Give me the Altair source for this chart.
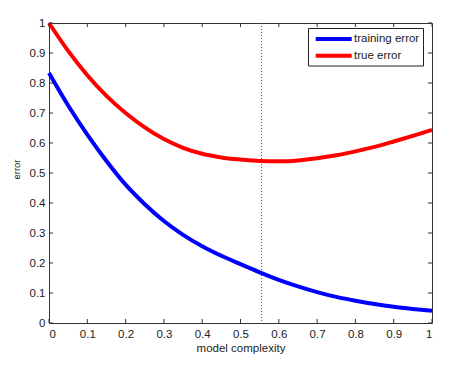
import altair as alt
import pandas as pd

# ---- data ----
complexity = [0.0, 0.05, 0.1, 0.15, 0.2, 0.25, 0.3, 0.35, 0.4, 0.45, 0.5,
              0.55, 0.6, 0.65, 0.7, 0.75, 0.8, 0.85, 0.9, 0.95, 1.0]
training_error = [0.833, 0.725, 0.628, 0.540, 0.461, 0.396, 0.340, 0.294, 0.256, 0.224, 0.196,
                  0.169, 0.144, 0.122, 0.103, 0.087, 0.074, 0.063, 0.054, 0.047, 0.041]
true_error = [1.000, 0.907, 0.826, 0.757, 0.700, 0.652, 0.613, 0.584, 0.564, 0.552, 0.545,
              0.540, 0.539, 0.542, 0.549, 0.559, 0.572, 0.587, 0.605, 0.624, 0.644]
series_names = ["training error", "true error"]
series_colors = ["#0000ff", "#ff0000"]
best_complexity = [0.555]
tick_values = [0.0, 0.1, 0.2, 0.3, 0.4, 0.5, 0.6, 0.7, 0.8, 0.9, 1.0]

W, H = 383, 300
FONT = "Liberation Sans"

rows = []
for xv, tr, te in zip(complexity, training_error, true_error):
    rows.append({"x": xv, "error": tr, "series": series_names[0]})
    rows.append({"x": xv, "error": te, "series": series_names[1]})
df = pd.DataFrame(rows)
ticks_df = pd.DataFrame({"t": tick_values})
best_df = pd.DataFrame({"b": best_complexity})

xs = alt.Scale(domain=[0, 1], nice=False, zero=False)
ys = alt.Scale(domain=[0, 1], nice=False, zero=False)
X_AX = alt.Axis(values=tick_values, format="~g", grid=False, domain=False, ticks=False,
                labelPadding=5, labelFontSize=11.5, labelColor="#222", labelFont=FONT,
                title="model complexity", titleFont=FONT, titleFontSize=11.5,
                titleFontWeight="normal", titleColor="#222", titlePadding=3)
Y_AX = alt.Axis(values=tick_values, format="~g", grid=False, domain=False, ticks=False,
                labelPadding=4, labelFontSize=11.5, labelColor="#222", labelFont=FONT,
                title="error", titleFont=FONT, titleFontSize=9.5, titleFontWeight="normal",
                titleColor="#222", titleX=-28, titleY=146, titleBaseline="bottom")

color = alt.Color("series:N", scale=alt.Scale(domain=series_names, range=series_colors), legend=None)

lines = alt.Chart(df).mark_line(strokeWidth=4, interpolate="monotone").encode(
    x=alt.X("x:Q", scale=xs, axis=X_AX),
    y=alt.Y("error:Q", scale=ys, axis=Y_AX),
    color=color,
    detail="series:N",
)

TICK = "#333"
tb = alt.Chart(ticks_df).mark_rule(color=TICK, strokeWidth=1).encode(
    x=alt.X("t:Q", scale=xs, axis=X_AX), y=alt.value(H), y2=alt.value(H - 4))
tt = alt.Chart(ticks_df).mark_rule(color=TICK, strokeWidth=1).encode(
    x=alt.X("t:Q", scale=xs, axis=X_AX), y=alt.value(0), y2=alt.value(4))
tl = alt.Chart(ticks_df).mark_rule(color=TICK, strokeWidth=1).encode(
    y=alt.Y("t:Q", scale=ys, axis=Y_AX), x=alt.value(0), x2=alt.value(4))
tr_ = alt.Chart(ticks_df).mark_rule(color=TICK, strokeWidth=1).encode(
    y=alt.Y("t:Q", scale=ys, axis=Y_AX), x=alt.value(W - 4), x2=alt.value(W))

best = alt.Chart(best_df).mark_rule(color="#555", strokeWidth=1, strokeDash=[1, 2]).encode(
    x=alt.X("b:Q", scale=xs, axis=X_AX), y=alt.value(0), y2=alt.value(H))

# legend (drawn box, MATLAB style)
LX0, LX1, LY0, LY1 = 259.5, 374.5, 5.5, 43
leg_box = alt.Chart(pd.DataFrame({"k": [0]})).mark_rect(
    fill="white", stroke="#222", strokeWidth=1).encode(
    x=alt.value(LX0), x2=alt.value(LX1), y=alt.value(LY0), y2=alt.value(LY1))
leg_layers = [leg_box]
row_y = [16, 32.7]
for name, ry in zip(series_names, row_y):
    d = pd.DataFrame({"series": [name]})
    leg_layers.append(alt.Chart(d).mark_rule(strokeWidth=4).encode(
        x=alt.value(266.7), x2=alt.value(302.7), y=alt.value(ry), color=color))
    leg_layers.append(alt.Chart(d).mark_text(
        align="left", baseline="middle", font=FONT, fontSize=11.5, color="#222").encode(
        x=alt.value(305), y=alt.value(ry), text="series:N"))

chart = alt.layer(best, lines, tb, tt, tl, tr_, *leg_layers).properties(
    width=W, height=H,
    autosize=alt.AutoSizeParams(type="none"),
    padding={"left": 49, "top": 23, "right": 19, "bottom": 45},
    background="white",
).configure_view(stroke="#333", strokeWidth=1)

chart.save("out.html", embed_options={"renderer": "svg", "actions": False})
